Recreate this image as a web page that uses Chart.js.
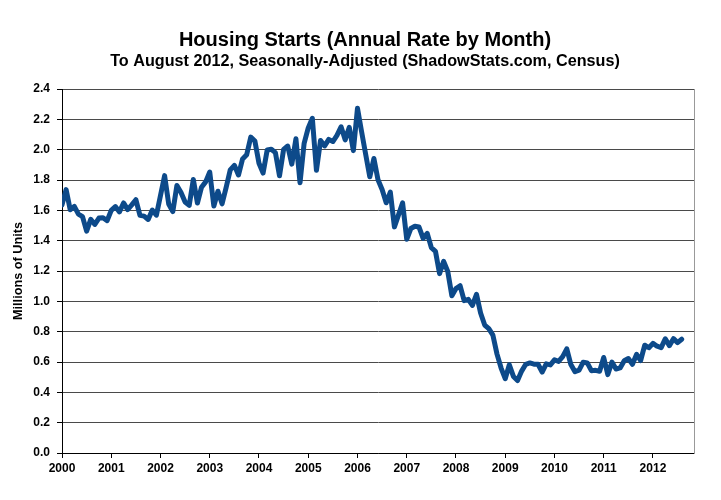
<!DOCTYPE html>
<html>
<head>
<meta charset="utf-8">
<script src="https://cdn.jsdelivr.net/npm/chart.js@4.4.0/dist/chart.umd.min.js"></script>
<style>
  html, body { margin: 0; padding: 0; background: #fff; }
  #wrap { width: 721px; height: 500px; }
</style>
</head>
<body>
<div id="wrap"><canvas id="myChart" width="721" height="500"></canvas></div>
<script>
// housing starts, millions of units, SAAR, one array per year
const starts2000 = [1.636, 1.737, 1.604, 1.626, 1.575, 1.559, 1.463, 1.541, 1.507, 1.549, 1.551, 1.532];
const starts2001 = [1.600, 1.625, 1.590, 1.649, 1.605, 1.636, 1.670, 1.567, 1.562, 1.540, 1.602, 1.568];
const starts2002 = [1.698, 1.829, 1.642, 1.592, 1.764, 1.717, 1.655, 1.633, 1.804, 1.648, 1.753, 1.788];
const starts2003 = [1.853, 1.629, 1.726, 1.643, 1.751, 1.867, 1.897, 1.833, 1.939, 1.967, 2.083, 2.057];
const starts2004 = [1.911, 1.846, 1.998, 2.003, 1.981, 1.828, 2.002, 2.024, 1.905, 2.072, 1.782, 2.042];
const starts2005 = [2.144, 2.207, 1.864, 2.061, 2.025, 2.068, 2.054, 2.095, 2.151, 2.065, 2.147, 1.994];
const starts2006 = [2.273, 2.119, 1.969, 1.821, 1.942, 1.802, 1.737, 1.650, 1.720, 1.491, 1.570, 1.649];
const starts2007 = [1.409, 1.480, 1.495, 1.490, 1.415, 1.448, 1.354, 1.330, 1.183, 1.264, 1.197, 1.037];
const starts2008 = [1.084, 1.103, 1.005, 1.013, 0.973, 1.046, 0.923, 0.844, 0.820, 0.777, 0.652, 0.560];
const starts2009 = [0.490, 0.582, 0.505, 0.478, 0.540, 0.585, 0.594, 0.586, 0.585, 0.534, 0.588, 0.581];
const starts2010 = [0.614, 0.604, 0.636, 0.687, 0.583, 0.536, 0.546, 0.599, 0.594, 0.543, 0.545, 0.539];
const starts2011 = [0.630, 0.517, 0.600, 0.554, 0.561, 0.608, 0.623, 0.585, 0.650, 0.610, 0.711, 0.694];
const starts2012 = [0.723, 0.704, 0.695, 0.753, 0.708, 0.754, 0.728, 0.750];

const yearLabels = ["2000", "2001", "2002", "2003", "2004", "2005", "2006",
  "2007", "2008", "2009", "2010", "2011", "2012"];
const yTickLabels = ["0.0", "0.2", "0.4", "0.6", "0.8", "1.0", "1.2",
  "1.4", "1.6", "1.8", "2.0", "2.2", "2.4"];

const allStarts = [].concat(starts2000, starts2001, starts2002, starts2003,
  starts2004, starts2005, starts2006, starts2007, starts2008, starts2009,
  starts2010, starts2011, starts2012);
// x = months since Jan 2000
const points = allStarts.map((v, i) => ({ x: i, y: v }));

const boldFont = (size) => ({ family: "'Liberation Sans', Arial, sans-serif", size: size, weight: "bold" });

let ctx = document.getElementById("myChart").getContext("2d");
let myChart = new Chart(ctx, {
  type: "line",
  data: {
    datasets: [
      {
        data: points,
        borderColor: "#0d4a8a",
        borderWidth: 5,
        pointRadius: 0,
        tension: 0,
        borderJoinStyle: "round",
        borderCapStyle: "round",
      },
    ],
  },
  options: {
    responsive: false,
    animation: false,
    devicePixelRatio: 1,
    layout: { padding: { left: 9, right: 0, top: 0, bottom: 0 } },
    plugins: {
      legend: { display: false },
      tooltip: { enabled: false },
      title: {
        display: true,
        text: "Housing Starts (Annual Rate by Month)",
        color: "#000",
        font: boldFont(20),
        padding: { top: 28, bottom: 0 },
      },
      subtitle: {
        display: true,
        text: "To August 2012, Seasonally-Adjusted (ShadowStats.com, Census)",
        color: "#000",
        font: boldFont(16.2),
        padding: { top: 0, bottom: 17.6 },
      },
    },
    scales: {
      x: {
        type: "linear",
        min: 0,
        max: 154,
        afterBuildTicks: (axis) => {
          axis.ticks = yearLabels.map((y, i) => ({ value: i * 12 }));
        },
        afterFit: (axis) => { axis.height = 47; },
        ticks: {
          color: "#000",
          font: boldFont(12),
          padding: 3,
          maxRotation: 0,
          autoSkip: false,
          callback: (v) => yearLabels[v / 12],
        },
        grid: {
          drawOnChartArea: false,
          drawTicks: true,
          tickLength: 5,
          tickColor: "#000",
        },
        border: { color: "#000", width: 1 },
      },
      y: {
        min: 0,
        max: 2.4,
        afterFit: (axis) => { axis.width = 53; },
        ticks: {
          stepSize: 0.2,
          color: "#000",
          font: boldFont(12),
          padding: 7,
          callback: (v, i) => yTickLabels[Math.round(v * 5)],
        },
        grid: {
          color: "#4a4a4a",
          tickColor: "#000",
          tickLength: 5,
        },
        border: { color: "#000", width: 1 },
        title: {
          display: true,
          text: "Millions of Units",
          color: "#000",
          font: boldFont(12.7),
          padding: { top: 1.5, bottom: 0 },
        },
      },
      yRight: {
        position: "right",
        min: 0,
        max: 2.4,
        afterFit: (axis) => { axis.width = 27; },
        ticks: { display: false },
        grid: { drawOnChartArea: false, drawTicks: false },
        border: { color: "#999", width: 1 },
      },
    },
  },
});
</script>
</body>
</html>
